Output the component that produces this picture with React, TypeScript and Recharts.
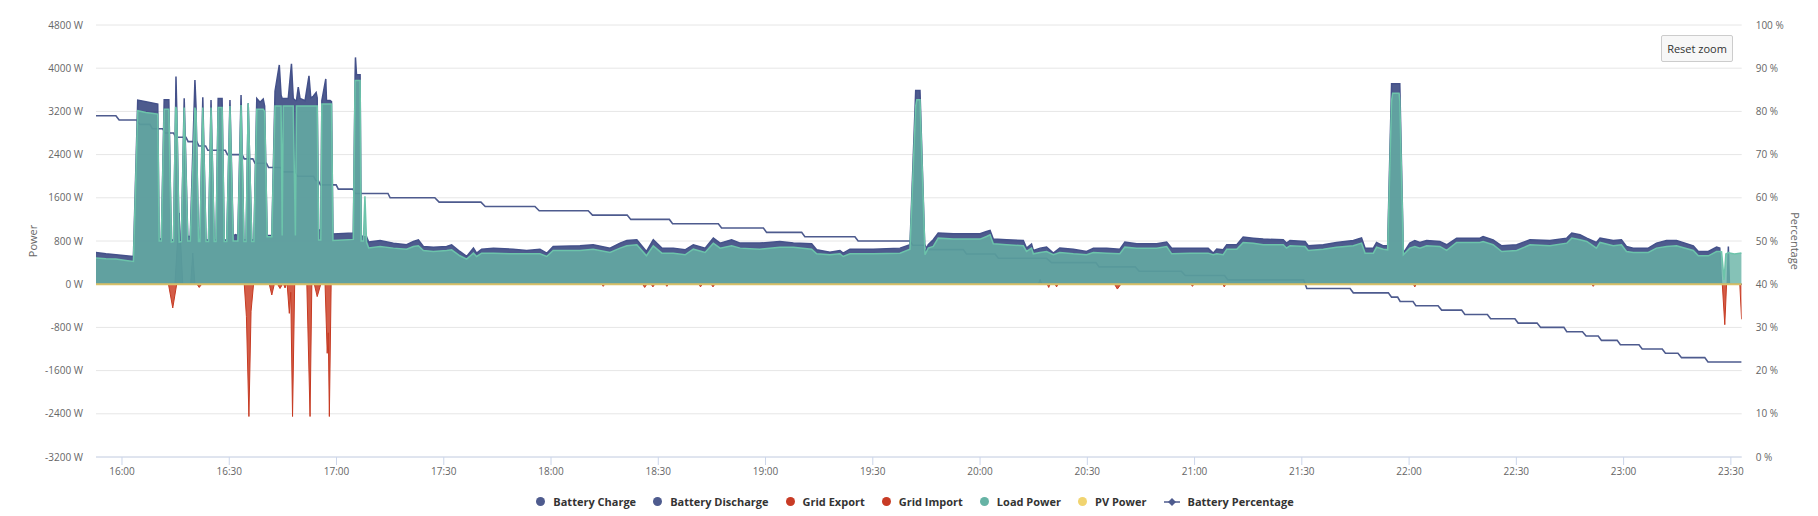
import { ComposedChart, Area, Line, XAxis, YAxis, CartesianGrid, Legend } from 'recharts'

// times are minutes since midnight, power in W

// [t, battery discharge, load power]
const POWER: [number, number, number][] = [
  [952.7, 589, 484], [955.5, 564, 471], [958.3, 546, 465], [961.1, 527, 440], [963.2, 515, 422],
  [964.4, 3410, 3212], [966.7, 3379, 3180], [970.0, 3336, 3150], [970.4, 850, 800], [971.0, 820, 800],
  [971.8, 3416, 3240], [973.1, 3416, 3240], [973.8, 820, 780], [974.4, 820, 790], [975.0, 3300, 3270],
  [975.1, 3844, 3270], [975.3, 3300, 3200], [976.0, 820, 780], [976.6, 820, 790], [977.4, 3441, 3270],
  [978.4, 880, 800], [979.1, 890, 800], [980.4, 3782, 3270], [980.7, 3300, 3200], [981.4, 820, 790],
  [981.8, 820, 790], [982.6, 3460, 3270], [983.5, 820, 790], [984.2, 820, 790], [984.9, 3410, 3270],
  [985.8, 820, 790], [986.3, 820, 790], [986.9, 3440, 3270], [988.0, 3440, 3270], [988.6, 820, 790],
  [989.3, 820, 790], [990.2, 3410, 3300], [991.1, 900, 800], [991.8, 918, 800], [992.4, 900, 800],
  [993.3, 3503, 3320], [994.1, 820, 790], [994.7, 820, 790], [995.3, 3350, 3350], [996.3, 820, 790],
  [996.9, 820, 790], [997.7, 3440, 3240], [998.6, 3370, 3240], [999.5, 3430, 3240], [999.9, 3300, 3200],
  [1000.6, 900, 880], [1001.9, 900, 880], [1002.8, 3570, 3300], [1004.0, 4060, 3300], [1004.5, 3500, 3300],
  [1004.8, 3440, 900], [1005.1, 3440, 3300], [1006.5, 3440, 3300], [1007.4, 4080, 3300], [1007.9, 3440, 3300],
  [1008.5, 3400, 900], [1008.8, 3400, 3300], [1009.3, 3650, 3300], [1009.8, 3440, 3300], [1011.2, 3400, 3300],
  [1012.3, 3860, 3300], [1012.8, 3450, 3300], [1013.5, 3480, 3300], [1014.3, 3550, 3300], [1014.6, 3450, 3300],
  [1015.0, 1010, 820], [1015.6, 1000, 820], [1015.9, 3400, 3336], [1017.0, 3800, 3336], [1017.2, 3400, 3336],
  [1018.2, 3400, 3336], [1018.6, 3380, 3336], [1019.0, 930, 810], [1021.9, 940, 820], [1024.7, 950, 830],
  [1025.2, 3880, 3770], [1025.3, 4200, 3770], [1025.6, 3880, 3770], [1026.6, 3880, 3770], [1026.9, 900, 800],
  [1027.5, 880, 800], [1027.95, 880, 1630], [1028.4, 880, 780], [1029.0, 780, 670], [1032.2, 810, 699],
  [1035.9, 760, 668], [1039.6, 730, 649], [1041.5, 791, 699], [1042.9, 822, 711], [1044.3, 699, 625],
  [1047.1, 686, 606], [1050.8, 699, 625], [1052.2, 730, 637], [1054.5, 606, 526], [1056.4, 514, 464],
  [1058.3, 668, 575], [1059.2, 575, 513], [1060.6, 649, 575], [1063.9, 668, 575], [1069.4, 649, 563],
  [1073.2, 625, 563], [1076.9, 649, 563], [1078.8, 575, 513], [1080.6, 699, 625], [1088.1, 711, 625],
  [1091.8, 730, 649], [1096.5, 668, 588], [1099.3, 761, 668], [1101.2, 810, 711], [1104.0, 822, 730],
  [1106.7, 606, 526], [1108.6, 822, 711], [1111.0, 668, 575], [1114.2, 668, 575], [1117.5, 637, 545],
  [1119.8, 730, 649], [1123.1, 668, 588], [1125.4, 853, 760], [1127.3, 761, 668], [1130.5, 822, 711],
  [1132.9, 761, 668], [1138.4, 761, 649], [1144.0, 791, 686], [1147.8, 761, 686], [1152.9, 748, 649],
  [1154.3, 637, 563], [1158.0, 594, 545], [1160.8, 625, 563], [1161.7, 575, 513], [1163.6, 649, 563],
  [1170.1, 649, 563], [1177.6, 668, 575], [1180.4, 730, 649], [1182.0, 3588, 3300], [1182.3, 3588, 3414],
  [1183.2, 3588, 3414], [1184.6, 563, 545], [1185.5, 730, 668], [1186.9, 822, 699], [1188.3, 946, 853],
  [1192.5, 933, 835], [1200.0, 933, 835], [1201.8, 976, 884], [1202.8, 995, 915], [1203.7, 835, 748],
  [1207.4, 822, 730], [1212.1, 810, 711], [1213.0, 668, 606], [1214.4, 742, 668], [1214.9, 625, 563],
  [1216.8, 668, 588], [1218.6, 686, 606], [1220.5, 575, 545], [1222.3, 668, 588], [1226.1, 649, 563],
  [1229.8, 606, 545], [1231.7, 668, 588], [1235.4, 668, 575], [1239.1, 649, 563], [1240.5, 779, 686],
  [1243.8, 748, 668], [1249.4, 748, 668], [1252.2, 779, 699], [1253.6, 668, 563], [1258.7, 668, 575],
  [1263.8, 668, 575], [1265.2, 575, 545], [1266.2, 649, 563], [1268.0, 637, 545], [1269.0, 730, 649],
  [1271.8, 730, 649], [1273.6, 872, 773], [1276.4, 853, 760], [1279.2, 835, 730], [1284.8, 822, 730],
  [1285.7, 761, 668], [1286.7, 810, 711], [1290.9, 791, 699], [1291.8, 711, 625], [1296.0, 730, 649],
  [1299.7, 773, 686], [1304.4, 810, 711], [1306.7, 859, 760], [1307.7, 668, 575], [1310.0, 668, 575],
  [1310.9, 773, 686], [1312.8, 711, 649], [1314.0, 711, 637], [1315.1, 3710, 3400], [1315.4, 3710, 3537],
  [1317.2, 3710, 3537], [1317.4, 3710, 3400], [1318.4, 575, 545], [1320.2, 761, 668], [1321.6, 810, 699],
  [1323.0, 773, 668], [1324.9, 810, 711], [1328.6, 791, 699], [1330.5, 730, 625], [1333.3, 853, 773],
  [1339.8, 853, 773], [1340.7, 884, 792], [1343.5, 822, 730], [1345.9, 711, 606], [1350.1, 730, 625],
  [1353.8, 822, 730], [1359.4, 810, 711], [1364.1, 853, 760], [1365.5, 946, 853], [1367.8, 915, 822],
  [1369.7, 853, 792], [1372.4, 773, 668], [1373.4, 853, 773], [1377.1, 810, 711], [1379.4, 822, 730],
  [1380.8, 699, 606], [1382.7, 668, 588], [1386.9, 668, 588], [1389.2, 761, 668], [1392.0, 810, 699],
  [1394.8, 810, 711], [1399.5, 711, 625], [1400.9, 606, 526], [1403.7, 606, 526], [1406.0, 686, 606],
  [1406.9, 668, 606], [1407.4, 0, 600], [1408.1, 0, 80], [1408.6, 0, 560], [1409.0, 0, 576],
  [1409.3, 700, 590], [1409.6, 0, 576], [1411.0, 0, 560], [1413.0, 0, 576],
]

// [t, battery charge]
const CHARGE: [number, number][] = [
  [952.7, 0], [974.8, 0], [976.0, 1320], [977.0, 0], [979.2, 0], [979.8, 577], [980.4, 0],
  [1216.3, 0], [1216.8, 90], [1217.3, 0], [1413.0, 0],
]

// [t, grid import]
const GRID_IMPORT: [number, number][] = [
  [952.7, 0], [973.0, 0], [974.2, -440], [975.3, 0],
  [994.2, 0], [994.8, -600], [995.5, -2450], [996.1, -500], [996.8, 0],
  [1006.2, 0], [1006.8, -540], [1007.2, -150], [1007.7, -2450], [1008.3, 0],
  [1011.7, 0], [1012.6, -2450], [1013.1, 0],
  [1016.8, 0], [1017.4, -1280], [1017.7, -900], [1018.0, -2450], [1018.5, 0],
  [1407.6, 0], [1408.3, -750], [1408.8, 0], [1412.5, 0], [1413.0, -650],
]

// [t, grid export]
const GRID_EXPORT: [number, number][] = [
  [952.7, 0], [981.0, 0], [981.6, -60], [982.3, 0], [1001.2, 0], [1001.9, -200], [1002.6, 0],
  [1003.5, 0], [1004.2, -80], [1004.9, 0], [1005.2, 0], [1005.6, -70], [1006.0, 0],
  [1013.8, 0], [1014.6, -230], [1015.6, 0], [1094.2, 0], [1094.6, -40], [1095.0, 0],
  [1105.6, 0], [1106.2, -60], [1106.8, 0], [1108.0, 0], [1108.5, -50], [1109.0, 0],
  [1112.0, 0], [1112.4, -40], [1112.8, 0], [1121.4, 0], [1121.8, -50], [1122.3, 0],
  [1124.8, 0], [1125.3, -50], [1125.8, 0], [1218.8, 0], [1219.2, -60], [1219.6, 0],
  [1221.0, 0], [1221.4, -50], [1221.8, 0], [1237.6, 0], [1238.4, -90], [1239.4, 0],
  [1259.0, 0], [1259.4, -40], [1259.8, 0], [1267.9, 0], [1268.3, -50], [1268.7, 0],
  [1321.2, 0], [1321.6, -50], [1322.0, 0], [1371.1, 0], [1371.5, -40], [1371.9, 0], [1413.0, 0],
]

const PV: [number, number][] = [[952.7, 0], [1413.0, 0]]

// [from, to, battery %]
const SOC: [number, number, number][] = [
  [952.7, 958.3, 79], [959.2, 964.1, 78], [965.0, 967.8, 77], [968.5, 971.4, 76], [972.0, 974.4, 75],
  [975.0, 977.9, 74], [978.5, 980.9, 73], [981.5, 983.4, 72], [984.0, 988.9, 71], [989.5, 993.6, 70],
  [994.2, 996.6, 69], [997.2, 1000.4, 68], [1001.0, 1004.4, 67], [1005.0, 1008.4, 66], [1009.0, 1013.6, 65],
  [1014.2, 1014.9, 64], [1015.5, 1019.9, 63], [1020.5, 1024.6, 62], [1025.2, 1034.4, 61], [1035.0, 1047.5, 60],
  [1048.7, 1060.4, 59], [1061.6, 1075.5, 58], [1076.7, 1090.4, 57], [1091.6, 1101.3, 56], [1102.3, 1113.1, 55],
  [1114.0, 1126.8, 54], [1127.7, 1139.4, 53], [1140.3, 1150.1, 52], [1151.0, 1165.0, 51], [1165.9, 1180.4, 50],
  [1181.2, 1184.6, 49], [1185.5, 1195.3, 48], [1196.2, 1204.2, 47], [1205.1, 1218.6, 46], [1220.0, 1232.4, 45],
  [1233.3, 1243.4, 44], [1244.5, 1256.3, 43], [1257.4, 1268.4, 42], [1269.3, 1290.5, 41], [1291.4, 1303.5, 39],
  [1304.4, 1314.2, 38], [1315.1, 1316.8, 37], [1317.5, 1321.1, 36], [1321.9, 1328.1, 35], [1329.1, 1334.7, 34],
  [1335.6, 1341.9, 33], [1342.8, 1349.6, 32], [1350.5, 1355.8, 31], [1356.8, 1363.3, 30], [1364.1, 1368.5, 29],
  [1369.5, 1372.9, 28], [1373.8, 1378.2, 27], [1379.1, 1384.3, 26], [1385.2, 1390.8, 25], [1391.7, 1395.2, 24],
  [1396.2, 1402.7, 23], [1403.6, 1413.0, 22],
]

const TIME_TICKS = [960, 990, 1020, 1050, 1080, 1110, 1140, 1170, 1200, 1230, 1260, 1290, 1320, 1350, 1380, 1410]
const POWER_TICKS = [-3200, -2400, -1600, -800, 0, 800, 1600, 2400, 3200, 4000, 4800]
const PCT_TICKS = [0, 10, 20, 30, 40, 50, 60, 70, 80, 90, 100]

const BLUE = '#4e5b8e'
// deep blue used at 0.75 opacity so that it reads as BLUE over white
const BLUE_FILL = '#132468'
const RED = '#c83b25'
const TEAL = '#66b3a5'
const YELLOW = '#f1d470'

const LEGEND = [
  { label: 'Battery Charge', color: BLUE },
  { label: 'Battery Discharge', color: BLUE },
  { label: 'Grid Export', color: RED },
  { label: 'Grid Import', color: RED },
  { label: 'Load Power', color: TEAL },
  { label: 'PV Power', color: YELLOW },
  { label: 'Battery Percentage', color: BLUE, line: true },
]

type Row = { t: number; [k: string]: number }

// merge every series into one table keyed by time
function buildRows(): Row[] {
  const map = new Map<number, Row>()
  const put = (t: number, key: string, v: number) => {
    const row = map.get(t) ?? { t }
    row[key] = v
    map.set(t, row)
  }
  POWER.forEach(([t, d, l]) => { put(t, 'discharge', d); put(t, 'load', l) })
  CHARGE.forEach(([t, v]) => put(t, 'charge', v))
  GRID_IMPORT.forEach(([t, v]) => put(t, 'gridImport', v))
  GRID_EXPORT.forEach(([t, v]) => put(t, 'gridExport', v))
  PV.forEach(([t, v]) => put(t, 'pv', v))
  SOC.forEach(([a, b, p]) => { put(a, 'soc', p); put(b, 'soc', p) })
  return [...map.values()].sort((a, b) => a.t - b.t)
}

const rows = buildRows()

const fmtTime = (t: number) => {
  const h = Math.floor(t / 60)
  const m = Math.round(t - h * 60)
  return `${h}:${m < 10 ? '0' : ''}${m}`
}

function PowerTitle(props: any) {
  const vb = props.viewBox
  const x = vb.x + 24.5
  const y = vb.y + vb.height / 2
  return (
    <text x={x} y={y} transform={`rotate(-90 ${x} ${y})`} textAnchor="middle" dominantBaseline="central" fontSize={11} fill="#666">
      Power
    </text>
  )
}

function PctTitle(props: any) {
  const vb = props.viewBox
  const x = vb.x + 53.5
  const y = vb.y + vb.height / 2
  return (
    <text x={x} y={y} transform={`rotate(90 ${x} ${y})`} textAnchor="middle" dominantBaseline="central" fontSize={11} fill="#666">
      Percentage
    </text>
  )
}

function renderLegend() {
  return (
    <div style={{ height: 29, display: 'flex', alignItems: 'center', justifyContent: 'center', paddingLeft: 12, gap: 17 }}>
      {LEGEND.map(item => (
        <div key={item.label} style={{ display: 'flex', alignItems: 'center' }}>
          {item.line ? (
            <svg width={16} height={10} style={{ marginRight: 8 }}>
              <line x1={0} y1={5} x2={16} y2={5} stroke={item.color} strokeWidth={1.5} />
              <path d="M8 1 L12 5 L8 9 L4 5 Z" fill={item.color} />
            </svg>
          ) : (
            <span style={{ width: 9, height: 9, borderRadius: '50%', background: item.color, marginRight: 8 }} />
          )}
          <span style={{ fontSize: 11, fontWeight: 700, color: '#333' }}>{item.label}</span>
        </div>
      ))}
    </div>
  )
}

export default function App() {
  return (
    <div style={{ position: 'relative', width: 1802, height: 508, fontFamily: '"Open Sans", sans-serif' }}>
      <ComposedChart width={1802} height={508} data={rows} margin={{ top: 17, right: 0, bottom: 0, left: 0 }}>
        <CartesianGrid vertical={false} stroke="#e6e6e6" yAxisId="power" />
        <XAxis
          dataKey="t" type="number" domain={[952.73, 1413.03]} ticks={TIME_TICKS} allowDataOverflow
          tickFormatter={fmtTime} height={30} tickSize={8} tickMargin={3}
          stroke="#ccd6eb" tick={{ fontSize: 10, fill: '#666' }}
        />
        <YAxis
          yAxisId="power" orientation="left" width={88} domain={[-3200, 4800]} ticks={POWER_TICKS}
          allowDataOverflow tickFormatter={(v: number) => `${v} W`} axisLine={false} tickLine={false}
          tickSize={0} tickMargin={13} tick={{ fontSize: 10, fill: '#666' }} label={PowerTitle}
        />
        <YAxis
          yAxisId="pct" orientation="right" width={68.3} domain={[0, 100]} ticks={PCT_TICKS}
          allowDataOverflow tickFormatter={(v: number) => `${v} %`} axisLine={false} tickLine={false}
          tickSize={0} tickMargin={14} tick={{ fontSize: 10, fill: '#666' }} label={PctTitle}
        />
        {/* percentage line sits under the areas and shows faintly through them */}
        <Line
          yAxisId="pct" dataKey="soc" type="linear" stroke={BLUE} strokeWidth={1.6} dot={false}
          activeDot={false} connectNulls isAnimationActive={false} zIndex={99}
        />
        <Area
          yAxisId="power" dataKey="charge" type="linear" stroke={BLUE} strokeWidth={1} fill={BLUE}
          fillOpacity={0.75} baseValue={0} connectNulls isAnimationActive={false} zIndex={101}
        />
        <Area
          yAxisId="power" dataKey="discharge" type="linear" stroke="#44518a" strokeWidth={1.5} fill={BLUE_FILL}
          fillOpacity={0.75} baseValue={0} connectNulls isAnimationActive={false} zIndex={102}
        />
        <Area
          yAxisId="power" dataKey="gridExport" type="linear" stroke={RED} strokeWidth={1} fill={RED}
          fillOpacity={0.85} baseValue={0} connectNulls isAnimationActive={false} zIndex={104}
        />
        <Area
          yAxisId="power" dataKey="gridImport" type="linear" stroke="#c63a22" strokeWidth={1} fill="#cc4128"
          fillOpacity={0.85} baseValue={0} connectNulls isAnimationActive={false} zIndex={105}
        />
        <Area
          yAxisId="power" dataKey="load" type="linear" stroke="#6cc4aa" strokeWidth={1.5} fill={TEAL}
          fillOpacity={0.8} baseValue={0} connectNulls isAnimationActive={false} zIndex={106}
        />
        <Area
          yAxisId="power" dataKey="pv" type="linear" stroke="#d8c068" strokeWidth={2} fill={YELLOW}
          fillOpacity={0.8} baseValue={0} connectNulls isAnimationActive={false} zIndex={107}
        />
        <Legend verticalAlign="bottom" height={29} content={renderLegend} />
      </ComposedChart>
      <div
        style={{
          position: 'absolute', left: 1653, top: 27, width: 72, height: 27, boxSizing: 'border-box',
          background: '#f7f7f7', border: '1px solid #cccccc', borderRadius: 2, fontSize: 11, color: '#333',
          display: 'flex', alignItems: 'center', justifyContent: 'center',
        }}
      >
        Reset zoom
      </div>
    </div>
  )
}
